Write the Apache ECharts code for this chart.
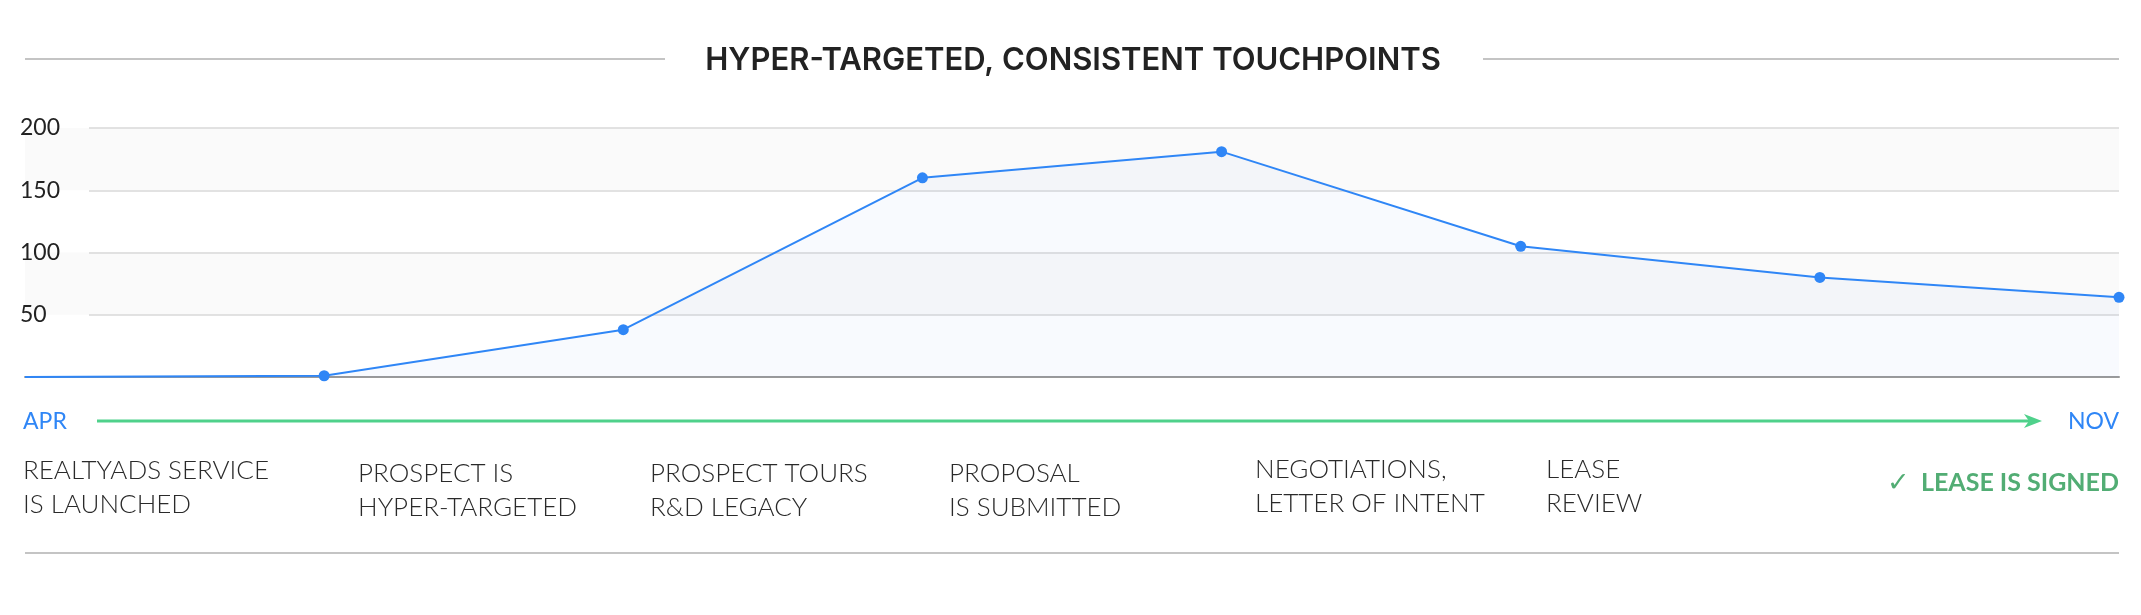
<!DOCTYPE html>
<html><head><meta charset="utf-8">
<script src="https://cdn.jsdelivr.net/npm/echarts@6/dist/echarts.min.js"></script>
<style>html,body{margin:0;padding:0;background:#fff}#c{width:2141px;height:615px}</style>
</head><body><div id="c"></div>
<script>
// ---- data ----
const categories = ['Start', 'Launch', 'Targeted', 'Tours', 'Proposal', 'Negotiations', 'Review', 'Signed'];
const touchpoints = [0, 1, 38, 160, 181, 105, 80, 64];
const yMin = 0, yMax = 200, yStep = 50;
const chartTitle = 'HYPER-TARGETED, CONSISTENT TOUCHPOINTS';
const startMonth = 'APR';
const endMonth = 'NOV';
const milestones = [
  'REALTYADS SERVICE\nIS LAUNCHED',
  'PROSPECT IS\nHYPER-TARGETED',
  'PROSPECT TOURS\nR&D LEGACY',
  'PROPOSAL\nIS SUBMITTED',
  'NEGOTIATIONS,\nLETTER OF INTENT',
  'LEASE\nREVIEW'
];
const finalMilestone = 'LEASE IS SIGNED';
const checkMark = '\u2713';

// ---- layout (positions of the text blocks) ----
const milestoneX = [23, 358, 650, 949, 1255, 1546];
const milestoneMid = [471, 474, 474, 474, 470, 470]; // centre of first text line

const chart = echarts.init(document.getElementById('c'));
const GL = 25, GR = 22, GT = 128, GH = 249;
const blue = '#2f86f6', green = '#4fd18b';
const LH = 33.5;

const graphic = [
  { type: 'text', x: 1073, y: 61, style: { text: chartTitle, font: '600 31px Inter', fill: '#222', align: 'center', verticalAlign: 'middle' } },
  { type: 'line', shape: { x1: 25, y1: 59, x2: 665, y2: 59 }, style: { stroke: '#c4c4c4', lineWidth: 2 } },
  { type: 'line', shape: { x1: 1483, y1: 59, x2: 2119, y2: 59 }, style: { stroke: '#c4c4c4', lineWidth: 2 } },
  { type: 'text', x: 23, y: 422, style: { text: startMonth, font: '400 23px Lato', fill: blue, verticalAlign: 'middle' } },
  { type: 'text', x: 2119, y: 422, style: { text: endMonth, font: '400 23px Lato', fill: blue, align: 'right', verticalAlign: 'middle' } },
  { type: 'line', shape: { x1: 97, y1: 421, x2: 2034, y2: 421 }, style: { stroke: green, lineWidth: 3 } },
  { type: 'polygon', shape: { points: [[2024, 414], [2042, 421], [2024, 428], [2029, 421]] }, style: { fill: green } },
  { type: 'line', shape: { x1: 25, y1: 553, x2: 2119, y2: 553 }, style: { stroke: '#c4c4c4', lineWidth: 2 } },
  { type: 'text', x: 2119, y: 483, style: { text: finalMilestone, font: '700 25px Lato', fill: '#52ad74', align: 'right', verticalAlign: 'middle' } },
  { type: 'text', x: 1910, y: 484, style: { text: checkMark, font: '200 27px "DejaVu Sans"', fill: '#52ad74', align: 'right', verticalAlign: 'middle' } }
];
milestones.forEach((m, i) => {
  graphic.push({ type: 'text', x: milestoneX[i], y: milestoneMid[i] - LH / 2,
    style: { text: m, font: '300 26px Lato', fill: '#2a2a2a', lineHeight: LH, verticalAlign: 'top' } });
});

chart.setOption({
  backgroundColor: '#fff',
  animation: false,
  grid: [
    { left: GL, right: GR, top: GT, height: GH },
    { left: 89, right: GR, top: GT, height: GH * (yMax - yStep) / (yMax - yMin) }
  ],
  xAxis: [
    { type: 'category', gridIndex: 0, data: categories, boundaryGap: false,
      axisLine: { show: true, lineStyle: { color: '#9a9a9a', width: 2 } },
      axisTick: { show: false }, axisLabel: { show: false }, splitLine: { show: false } },
    { type: 'value', gridIndex: 1, show: false }
  ],
  yAxis: [
    { type: 'value', gridIndex: 0, min: yMin, max: yMax, interval: yStep,
      axisLine: { show: false }, axisTick: { show: false }, axisLabel: { show: false },
      splitLine: { show: false },
      splitArea: { show: true, areaStyle: { color: ['rgba(255,255,255,0)', '#fafafa'] } } },
    { type: 'value', gridIndex: 1, min: yStep, max: yMax, interval: yStep,
      axisLine: { show: false }, axisTick: { show: false },
      axisLabel: { show: true, margin: 69, align: 'left', color: '#222', fontFamily: 'Lato', fontSize: 23 },
      splitLine: { show: true, lineStyle: { color: '#d9d9d9', width: 1.5 } } }
  ],
  series: [{
    type: 'line', xAxisIndex: 0, yAxisIndex: 0, data: touchpoints,
    symbol: 'circle',
    symbolSize: (v, p) => p.dataIndex === 0 ? 0 : 11,
    lineStyle: { color: blue, width: 2 },
    itemStyle: { color: blue },
    areaStyle: { color: 'rgba(47,120,230,0.05)' },
    z: 5
  }],
  graphic: graphic
});
</script></body></html>
